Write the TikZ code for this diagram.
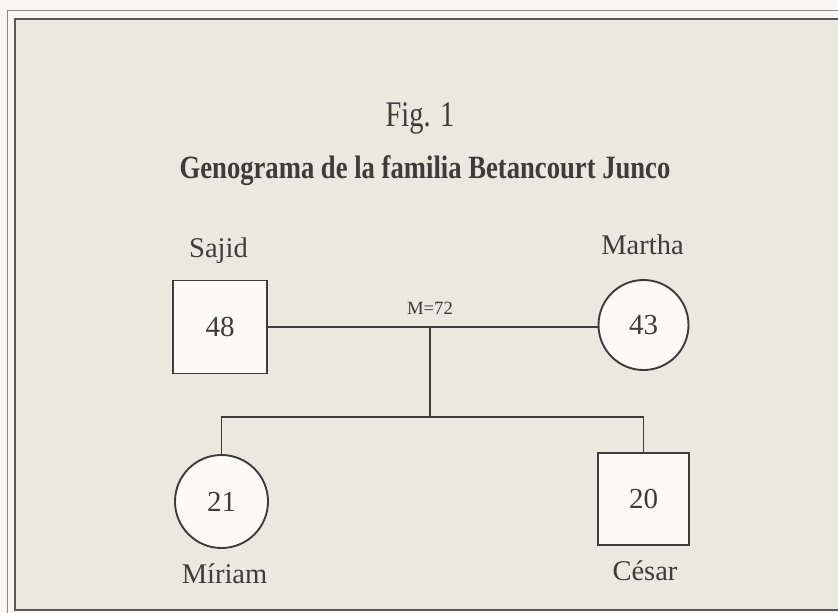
\documentclass[tikz,border=0pt]{standalone}
\usepackage{fontspec}
\setmainfont{Liberation Serif}
\definecolor{paper}{HTML}{F7F6EF}
\definecolor{panel}{HTML}{EAE9E0}
\definecolor{ink}{HTML}{3C3C3A}
\definecolor{fillw}{HTML}{FBFAF4}
\tikzset{
  person/.style={draw=ink, line width=1.9pt, fill=fillw, text=ink, inner sep=0pt,
    font=\fontsize{29}{32}\selectfont},
  male/.style={person, rectangle},
  female/.style={person, circle},
  lbl/.style={text=ink, anchor=base, inner sep=0pt},
  pname/.style={lbl, font=\fontsize{28.5}{32}\selectfont},
  figlbl/.style={lbl, xscale=0.79, transform shape, font=\fontsize{36}{40}\selectfont},
  titlelbl/.style={lbl, xscale=0.82, transform shape, font=\fontsize{32.5}{36}\selectfont\bfseries},
  mlbl/.style={lbl, font=\fontsize{18.7}{20}\selectfont},
  link/.style={draw=ink, line width=1.9pt},
}
\begin{document}
\begin{tikzpicture}[x=1pt, y=-1pt]
\useasboundingbox (0,0) rectangle (838,613);
\fill[paper] (0,0) rectangle (838,613);
\draw[draw=ink!60, line width=1pt] (7,613) -- (7,10) -- (840,10);
\filldraw[fill=panel, draw=ink!85, line width=1.3pt] (15,610) -- (15,19) -- (840,19) -- (840,610) -- cycle;
\node[figlbl] (figtxt) at (420,126) {Fig. 1};
\node[titlelbl] (title) at (425,178) {Genograma de la familia Betancourt Junco};
\node[male, minimum width=94pt, minimum height=93pt] (sajid) at (220,327) {48};
\node[female, minimum size=90pt] (martha) at (643.5,325) {43};
\node[female, minimum size=93pt] (miriam) at (221.5,501.5) {21};
\node[male, minimum width=91pt, minimum height=92pt] (cesar) at (643.5,499) {20};
\node[pname] (nsajid) at (218.5,257) {Sajid};
\node[pname] (nmartha) at (642.5,254) {Martha};
\node[pname] (nmiriam) at (224.5,583) {Míriam};
\node[pname] (ncesar) at (645,580) {César};
\coordinate (m) at (430,327);
\coordinate (s) at (430,417);
\draw[link] (sajid.east) -- (sajid.east -| martha.west);
\node[mlbl] (mlabel) at (430,314) {M=72};
\draw[link] (m) -- (s);
\draw[link] (miriam.north) |- (s) -| (cesar.north);
\end{tikzpicture}
\end{document}
